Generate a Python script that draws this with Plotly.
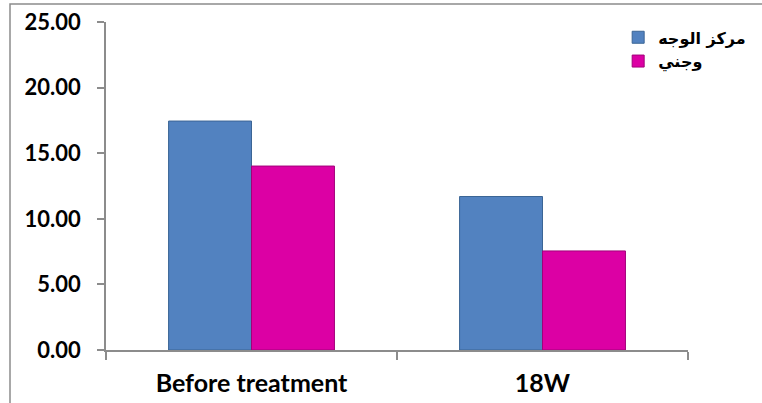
import plotly.graph_objects as go

categories = ["Before treatment", "18W"]
series_names = ["مركز الوجه", "وجني"]
center_face = [17.45, 11.7]
cheek = [14.02, 7.55]
y_ticks = [0, 5, 10, 15, 20, 25]

fig = go.Figure()
fig.add_trace(go.Bar(
    x=categories, y=center_face, name=series_names[0],
    marker=dict(color="#5282C0", line=dict(color="#3B6595", width=1)),
))
fig.add_trace(go.Bar(
    x=categories, y=cheek, name=series_names[1],
    marker=dict(color="#DC00A4", line=dict(color="#A2007A", width=1)),
))

axis_color = "#8C8C8C"
fig.update_layout(
    width=762, height=403,
    margin=dict(l=106, r=74, t=22, b=53, autoexpand=False),
    paper_bgcolor="white", plot_bgcolor="white",
    barmode="group", bargap=0.43, bargroupgap=0,
    showlegend=True,
    legend=dict(
        x=0.88, y=1.005, xanchor="left", yanchor="top",
        font=dict(family="DejaVu Sans", size=16, color="black", weight="bold"),
        bgcolor="rgba(0,0,0,0)", tracegroupgap=0, itemwidth=30,
    ),
    xaxis=dict(
        automargin=False,
        showline=True, linecolor=axis_color, linewidth=1.5,
        ticks="outside", tickson="boundaries", ticklen=8, tickcolor=axis_color,
        tickwidth=1.5,
        tickfont=dict(family="Lato", size=25, color="black", weight="bold"),
        showgrid=False, ticklabelstandoff=10,
    ),
    yaxis=dict(
        automargin=False,
        range=[0, 25], tickvals=y_ticks, tickformat=".2f",
        showline=True, linecolor=axis_color, linewidth=1.5,
        ticks="outside", ticklen=7, tickcolor=axis_color, tickwidth=1.5,
        tickfont=dict(family="Lato", size=22, color="black", weight="bold"),
        showgrid=False, zeroline=False, ticklabelstandoff=12,
    ),
    shapes=[dict(
        type="rect", xref="paper", yref="paper",
        x0=(10 - 106) / 582, x1=(800 - 106) / 582,
        y0=(350 - 450) / 328, y1=(350 - 4) / 328,
        line=dict(color="#8C8C8C", width=1.5), layer="below",
    )],
)

fig.write_html(
    "out.html",
    config={"displayModeBar": False},
    post_script="document.body.style.margin='0';document.body.style.overflow='hidden';",
)
